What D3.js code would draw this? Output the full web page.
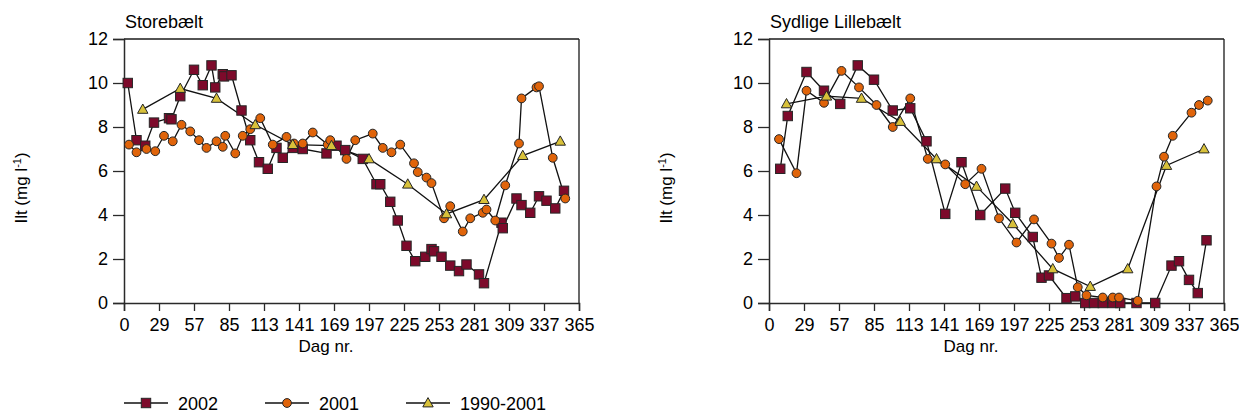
<!DOCTYPE html>
<html>
<head>
<meta charset="utf-8">
<script src="https://cdn.jsdelivr.net/npm/d3@7"></script>
<style>
  html, body { margin: 0; padding: 0; background: #fff; }
  svg { display: block; font-family: "Liberation Sans", Arial, sans-serif; }
</style>
</head>
<body>
<svg id="chart" width="1239" height="414"></svg>
<script>
// Day-of-year tick labels shared by both panels
const xTickLabels = [0, 29, 57, 85, 113, 141, 169, 197, 225, 253, 281, 309, 337, 365];
const yTickLabels = [0, 2, 4, 6, 8, 10, 12];

// Storebælt
const sbDays2002 = [4,11,18,25,37,39,46,57,64,71,74,80,81,87,95,102,109,116,123,128,136,144,163,171,178,192,203,206,214,220,227,234,242,247,249,255,262,269,275,285,289,303,304,315,319,326,333,339,346,353];
const sbVals2002 = [10.0,7.4,7.15,8.2,8.4,8.35,9.4,10.6,9.9,10.8,9.8,10.4,10.3,10.35,8.75,7.4,6.4,6.1,7.05,6.6,7.05,7.0,6.8,7.15,6.95,6.55,5.4,5.4,4.6,3.75,2.6,1.9,2.1,2.45,2.35,2.1,1.7,1.45,1.75,1.3,0.9,3.65,3.4,4.75,4.45,4.1,4.85,4.65,4.3,5.1];
const sbDays2001 = [5,11,19,26,33,40,47,54,61,67,75,80,82,90,96,102,110,120,131,137,144,152,164,166,179,186,200,208,215,222,233,236,243,247,257,262,272,278,288,291,298,306,317,319,331,333,344,354];
const sbVals2001 = [7.2,6.85,7.0,6.9,7.6,7.35,8.1,7.8,7.4,7.05,7.35,7.1,7.6,6.8,7.6,7.9,8.4,7.2,7.55,7.25,7.25,7.75,7.2,7.4,6.55,7.4,7.7,7.05,6.85,7.2,6.35,5.95,5.7,5.45,3.85,4.4,3.25,3.85,4.1,4.25,3.75,5.35,7.25,9.3,9.8,9.85,6.6,4.75];
const sbDaysMean = [16,46,75,106,136,167,197,228,259,289,320,350];
const sbValsMean = [8.8,9.75,9.3,8.1,7.2,7.15,6.55,5.4,4.05,4.7,6.7,7.35];

// Sydlige Lillebælt
const slDays2002 = [10,16,31,45,58,72,85,100,114,127,142,155,170,190,198,212,219,225,239,246,254,261,268,276,282,295,310,323,329,337,344,351];
const slVals2002 = [6.1,8.5,10.5,9.65,9.05,10.8,10.15,8.75,8.85,7.35,4.05,6.4,4.0,5.2,4.1,3.0,1.15,1.25,0.22,0.3,0,0,0,0,0,0,0,1.7,1.9,1.05,0.45,2.85];
const slDays2001 = [9,23,31,45,59,73,87,100,114,128,142,158,171,185,199,213,227,233,241,248,255,268,276,281,296,311,317,324,339,345,352];
const slVals2001 = [7.45,5.9,9.65,9.1,10.55,9.8,9.0,8.0,9.3,6.55,6.3,5.4,6.1,3.85,2.75,3.8,2.7,2.05,2.65,0.72,0.35,0.25,0.25,0.25,0.1,5.3,6.65,7.6,8.65,9.0,9.2];
const slDaysMean = [15,47,75,106,135,167,196,228,258,288,319,349];
const slValsMean = [9.05,9.4,9.3,8.25,6.55,5.3,3.6,1.55,0.75,1.55,6.25,7.0];

const seriesNames = ["2002", "2001", "1990-2001"];
const colors = { sq: "#7d0a2b", circ: "#e0640a", tri: "#d8c13a" };
const markerStroke = "#262626";

const svg = d3.select("#chart");

function zip(days, vals) { return days.map((d, i) => ({ d, v: vals[i] })); }

function marker(sel, kind) {
  if (kind === "sq") {
    sel.append("rect").attr("x", -4.7).attr("y", -4.7).attr("width", 9.4).attr("height", 9.4)
      .attr("fill", colors.sq).attr("stroke", markerStroke).attr("stroke-width", 1);
  } else if (kind === "circ") {
    sel.append("circle").attr("r", 4.4)
      .attr("fill", colors.circ).attr("stroke", markerStroke).attr("stroke-width", 1);
  } else {
    sel.append("path").attr("d", "M0,-5.4L5.2,3.9L-5.2,3.9Z")
      .attr("fill", colors.tri).attr("stroke", markerStroke).attr("stroke-width", 1);
  }
}

function panel(left, title, series, yTitleX, xTitleX) {
  const right = left + 455, top = 39, bottom = 303;
  const x = d3.scaleLinear().domain([1, 365]).range([left, right]).clamp(true);
  const y = d3.scaleLinear().domain([0, 12]).range([bottom, top]);
  const g = svg.append("g");

  // frame (top and right edges)
  g.append("line").attr("x1", left).attr("x2", right).attr("y1", top).attr("y2", top)
    .attr("stroke", "#1a1a1a").attr("stroke-width", 1.3);
  g.append("line").attr("x1", right).attr("x2", right).attr("y1", top).attr("y2", bottom)
    .attr("stroke", "#1a1a1a").attr("stroke-width", 1.3);

  // axes
  const yAxis = d3.axisLeft(y).tickValues(yTickLabels).tickSize(11).tickPadding(5).tickFormat(d3.format("d"));
  const xAxis = d3.axisBottom(x).tickValues(xTickLabels).tickSize(8).tickPadding(7).tickFormat(d3.format("d"));
  const ya = g.append("g").attr("transform", `translate(${left},0)`).call(yAxis);
  const xa = g.append("g").attr("transform", `translate(0,${bottom})`).call(xAxis);
  [ya, xa].forEach(a => {
    a.select(".domain").attr("stroke", "#2a2a2a").attr("stroke-width", 1.5);
    a.selectAll(".tick line").attr("stroke", "#2a2a2a").attr("stroke-width", 1.3);
    a.selectAll("text").attr("fill", "#000").style("font-size", "18px")
      .style("font-family", "'Liberation Sans', Arial, sans-serif");
  });

  // lines and markers
  const line = d3.line().x(p => x(p.d)).y(p => y(p.v));
  series.forEach(s => {
    g.append("path").datum(s.data).attr("d", line)
      .attr("fill", "none").attr("stroke", "#111").attr("stroke-width", 1.3);
  });
  series.forEach(s => {
    const m = g.append("g").selectAll("g").data(s.data).join("g")
      .attr("transform", p => `translate(${x(p.d)},${y(p.v)})`);
    m.each(function () { marker(d3.select(this), s.kind); });
  });

  // titles
  g.append("text").attr("x", left + 1).attr("y", 28).text(title)
    .style("font-size", "18px");
  g.append("text").attr("x", xTitleX).attr("y", 352).attr("text-anchor", "middle")
    .text("Dag nr.").style("font-size", "17px");
  const yt = g.append("text").attr("transform", `translate(${yTitleX},188) rotate(-90)`)
    .attr("text-anchor", "middle").style("font-size", "17px");
  yt.append("tspan").text("Ilt (mg l");
  yt.append("tspan").text("-1").attr("dy", -6).style("font-size", "11px");
  yt.append("tspan").text(")").attr("dy", 6);
}

panel(124, "Storebælt", [
  { kind: "sq", data: zip(sbDays2002, sbVals2002) },
  { kind: "circ", data: zip(sbDays2001, sbVals2001) },
  { kind: "tri", data: zip(sbDaysMean, sbValsMean) }
], 27, 326);

panel(769, "Sydlige Lillebælt", [
  { kind: "sq", data: zip(slDays2002, slVals2002) },
  { kind: "circ", data: zip(slDays2001, slVals2001) },
  { kind: "tri", data: zip(slDaysMean, slValsMean) }
], 672, 971);

// legend
const legend = svg.append("g").attr("transform", "translate(124,403)");
["sq", "circ", "tri"].forEach((k, i) => {
  const item = legend.append("g").attr("transform", `translate(${i * 141},0)`);
  item.append("line").attr("x1", 0).attr("x2", 44).attr("y1", 0).attr("y2", 0)
    .attr("stroke", "#111").attr("stroke-width", 1.3);
  const m = item.append("g").attr("transform", "translate(22,0)");
  marker(m, k);
  item.append("text").attr("x", 54).attr("y", 6.5).text(seriesNames[i]).style("font-size", "18px");
});
</script>
</body>
</html>
